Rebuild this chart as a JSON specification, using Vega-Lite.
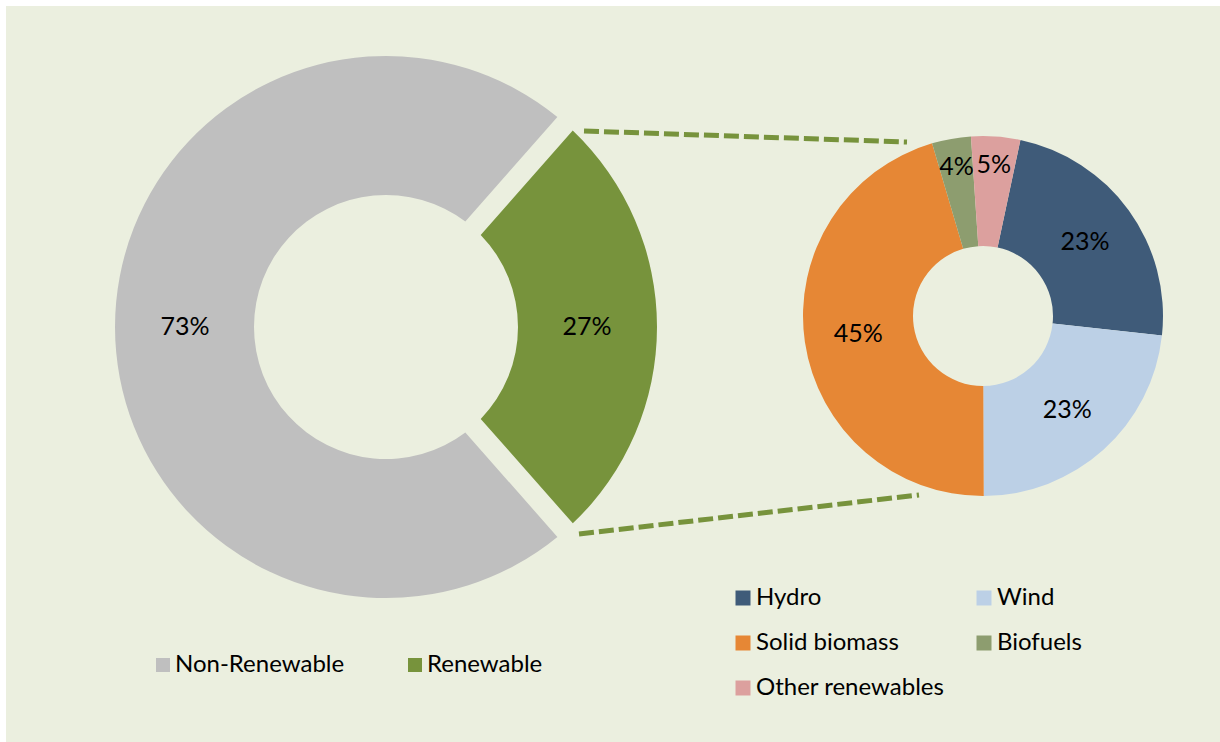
{
  "$schema": "https://vega.github.io/schema/vega-lite/v6.json",
  "width": 1214,
  "height": 736,
  "autosize": {"type": "none"},
  "padding": {"left": 6, "top": 6, "right": 0, "bottom": 0},
  "background": "#FFFFFF",
  "view": {"fill": "#EBEFDF", "stroke": null},
  "config": {
    "font": "Lato",
    "view": {"fill": "#EBEFDF", "stroke": null},
    "legend": {
      "title": null,
      "symbolType": "square",
      "symbolStrokeWidth": 0,
      "labelFont": "Lato",
      "labelColor": "#000000",
      "labelFontSize": 24,
      "labelLimit": 400,
      "padding": 0,
      "offset": 0
    }
  },
  "layer": [
    {
      "data": {
        "values": [
          {"source": "Non-Renewable", "share": 73, "label": "73%", "rank": 1},
          {"source": "Renewable", "share": 27, "label": "27%", "rank": 2}
        ]
      },
      "layer": [
        {
          "mark": {"type": "arc", "x": 380, "y": 321, "innerRadius": 132, "outerRadius": 271, "padAngle": 0.068},
          "encoding": {
            "theta": {"field": "share", "type": "quantitative", "stack": true, "scale": {"range": [2.419, 8.702]}},
            "order": {"field": "rank", "type": "quantitative"},
            "color": {
              "field": "source",
              "type": "nominal",
              "scale": {"domain": ["Non-Renewable", "Renewable"], "range": ["#BFBFBF", "#77933C"]},
              "legend": {
                "orient": "none",
                "legendX": 145,
                "legendY": 647,
                "direction": "horizontal",
                "symbolSize": 196,
                "labelOffset": 0,
                "columnPadding": 58
              }
            }
          }
        },
        {
          "mark": {"type": "text", "x": 380, "y": 321, "radius": 201, "fontSize": 25, "color": "#000000", "align": "center", "baseline": "middle"},
          "encoding": {
            "theta": {"field": "share", "type": "quantitative", "stack": true},
            "order": {"field": "rank", "type": "quantitative"},
            "text": {"field": "label", "type": "nominal"}
          }
        }
      ]
    },
    {
      "data": {
        "values": [
          {"source": "Hydro", "share": 23.4, "label": "23%", "rank": 1},
          {"source": "Wind", "share": 23.2, "label": "23%", "rank": 2},
          {"source": "Solid biomass", "share": 45.5, "label": "45%", "rank": 3},
          {"source": "Biofuels", "share": 3.5, "label": "4%", "rank": 4},
          {"source": "Other renewables", "share": 4.4, "label": "5%", "rank": 5}
        ]
      },
      "layer": [
        {
          "mark": {"type": "arc", "x": 977, "y": 310, "innerRadius": 70, "outerRadius": 180},
          "encoding": {
            "theta": {"field": "share", "type": "quantitative", "stack": true, "scale": {"range": [0.2094, 6.4926]}},
            "order": {"field": "rank", "type": "quantitative"},
            "color": {
              "field": "source",
              "type": "nominal",
              "scale": {
                "domain": ["Hydro", "Wind", "Solid biomass", "Biofuels", "Other renewables"],
                "range": ["#3F5B79", "#BCD0E6", "#E68735", "#8D9D6F", "#DCA09E"]
              },
              "legend": {
                "orient": "none",
                "legendX": 725,
                "legendY": 580,
                "direction": "horizontal",
                "columns": 2,
                "symbolSize": 225,
                "labelOffset": 1,
                "columnPadding": 27,
                "rowPadding": 21
              }
            }
          }
        },
        {
          "mark": {"type": "text", "x": 977, "y": 310, "radius": 126, "fontSize": 25, "color": "#000000", "align": "center", "baseline": "middle"},
          "encoding": {
            "theta": {"field": "share", "type": "quantitative", "stack": true},
            "order": {"field": "rank", "type": "quantitative"},
            "text": {"condition": {"test": "datum.share >= 10", "field": "label"}, "value": ""}
          }
        },
        {
          "mark": {"type": "text", "x": 977, "y": 310, "radius": 151, "fontSize": 25, "color": "#000000", "align": "center", "baseline": "middle"},
          "encoding": {
            "theta": {"field": "share", "type": "quantitative", "stack": true},
            "order": {"field": "rank", "type": "quantitative"},
            "text": {"condition": {"test": "datum.share < 10", "field": "label"}, "value": ""}
          }
        }
      ]
    },
    {
      "data": {"values": [{}]},
      "mark": {"type": "rule", "color": "#77933C", "strokeWidth": 5, "strokeDash": [15, 5]},
      "encoding": {
        "x": {"value": 578},
        "y": {"value": 125},
        "x2": {"value": 901},
        "y2": {"value": 136}
      }
    },
    {
      "data": {"values": [{}]},
      "mark": {"type": "rule", "color": "#77933C", "strokeWidth": 5, "strokeDash": [15, 5]},
      "encoding": {
        "x": {"value": 573},
        "y": {"value": 528},
        "x2": {"value": 913},
        "y2": {"value": 489}
      }
    }
  ],
  "resolve": {
    "scale": {"theta": "independent", "color": "independent"},
    "legend": {"color": "independent"}
  }
}
